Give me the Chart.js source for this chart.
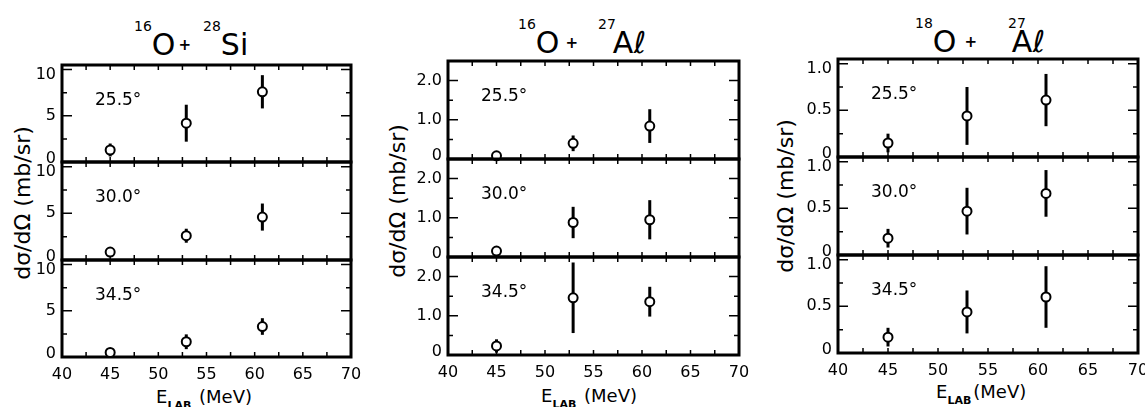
<!DOCTYPE html>
<html>
<head>
<meta charset="utf-8">
<title>Cross sections vs E_LAB</title>
<script src="https://cdn.jsdelivr.net/npm/chart.js@4.4.0/dist/chart.umd.min.js"></script>
<style>
  html, body { margin: 0; padding: 0; background: #fff; }
  #figure { position: relative; width: 1145px; height: 407px; overflow: hidden;
            font-family: "DejaVu Sans", sans-serif; color: #000; }
  #figure canvas { position: absolute; }
  .title { position: absolute; white-space: nowrap; font-size: 30px; line-height: 30px; }
  .iso { font-size: 14px; position: relative; top: -24px; }
  .plus { font-size: 15px; font-weight: bold; position: relative; top: -5px; }
  .ytitle { position: absolute; white-space: nowrap; font-size: 22px; line-height: 22px;
            transform: translate(-50%, -50%) rotate(-90deg); }
  .xtitle { position: absolute; white-space: nowrap; font-size: 18px; line-height: 18px; }
  .xtitle sub { font-size: 11px; font-weight: bold; vertical-align: -6px; margin-right: 2px; }
</style>
</head>
<body>
<div id="figure">
  <div class="title" style="left:134px;top:30px"><span class="iso">16</span>O<span class="plus" style="margin:0 12px 0 3px">+</span><span class="iso">28</span>Si</div>
  <div class="title" style="left:518px;top:28px"><span class="iso">16</span>O<span class="plus" style="margin:0 20px 0 6px">+</span><span class="iso">27</span><span style="margin-left:-3px">Aℓ</span></div>
  <div class="title" style="left:915px;top:27px"><span class="iso">18</span>O<span class="plus" style="margin:0 31px 0 8px">+</span><span class="iso">27</span><span style="margin-left:-14px">Aℓ</span></div>

  <div class="ytitle" style="left:23px;top:203px">dσ/dΩ (mb/sr)</div>
  <div class="ytitle" style="left:398px;top:201px">dσ/dΩ (mb/sr)</div>
  <div class="ytitle" style="left:786px;top:196px">dσ/dΩ (mb/sr)</div>

  <div class="xtitle" style="left:156px;top:388px">E<sub>LAB</sub> (MeV)</div>
  <div class="xtitle" style="left:541px;top:387px">E<sub>LAB</sub> (MeV)</div>
  <div class="xtitle" style="left:936px;top:383px">E<sub>LAB</sub>(MeV)</div>
</div>

<script>
  // Beam energies (MeV) and the three detection angles
  const energies = [45, 52.9, 60.8];
  const angleLabels = ['25.5°', '30.0°', '34.5°'];
  const energyTicks = [40, 45, 50, 55, 60, 65, 70];
  const energyTickLabels = ['40', '45', '50', '55', '60', '65', '70'];

  // 16O + 28Si, dσ/dΩ in mb/sr, one row per angle
  const si28Sigma = [[1.3, 4.2, 7.6], [0.85, 2.6, 4.6], [0.5, 1.65, 3.3]];
  const si28Error = [[0.7, 2.0, 1.8], [0, 0.75, 1.45], [0, 0.8, 0.9]];
  const si28Ticks = [0, 5, 10];
  const si28TickLabels = ['0', '5', '10'];

  // 16O + 27Al
  const al27Sigma = [[0.08, 0.4, 0.84], [0.15, 0.88, 0.95], [0.23, 1.46, 1.36]];
  const al27Error = [[0, 0.2, 0.43], [0, 0.4, 0.5], [0.17, 0.9, 0.38]];
  const al27Ticks = [0, 1, 2];
  const al27TickLabels = ['0', '1.0', '2.0'];

  // 18O + 27Al
  const o18Sigma = [[0.15, 0.44, 0.61], [0.18, 0.47, 0.66], [0.17, 0.44, 0.6]];
  const o18Error = [[0.1, 0.31, 0.28], [0.1, 0.25, 0.25], [0.1, 0.23, 0.33]];
  const o18Ticks = [0, 0.5, 1];
  const o18TickLabels = ['0', '0.5', '1.0'];

  const FONT = '"DejaVu Sans", sans-serif';
  Chart.defaults.font.family = FONT;
  Chart.defaults.color = '#000';

  const AXIS_W = 40;   // y axis box width
  const PAD = 22;      // room around each panel (larger than any tick label overflow)
  const XAXIS_H = 30;  // bottom axis height

  // plot boxes: left, top, right, bottom of the three stacked panels
  const columns = [
    { sigma: si28Sigma, error: si28Error, ticks: si28Ticks, tickLabels: si28TickLabels, yMax: 10.5, box: [62, 65, 351, 357] },
    { sigma: al27Sigma, error: al27Error, ticks: al27Ticks, tickLabels: al27TickLabels, yMax: 2.5, box: [448, 61, 739, 355] },
    { sigma: o18Sigma, error: o18Error, ticks: o18Ticks, tickLabels: o18TickLabels, yMax: 1.05, box: [838, 59, 1138, 353] }
  ];

  // midpoints between major ticks, used for the small inner ticks
  function withMinor(values) {
    const out = [];
    values.forEach((v, k) => {
      out.push({ v: v, major: true });
      if (k < values.length - 1) out.push({ v: (v + values[k + 1]) / 2, major: false });
    });
    return out;
  }

  // frame, inward ticks, error bars, y labels and the angle label
  const panelPlugin = {
    id: 'panel',
    beforeDatasetsDraw(chart, args, opts) {
      const ctx = chart.ctx;
      const a = chart.chartArea;
      const x = chart.scales.x, y = chart.scales.y;
      ctx.save();
      ctx.strokeStyle = '#000';
      ctx.lineCap = 'butt';

      // error bars
      ctx.lineWidth = 3;
      chart.data.datasets[0].data.forEach(p => {
        if (!p.err) return;
        const px = x.getPixelForValue(p.x);
        ctx.beginPath();
        ctx.moveTo(px, y.getPixelForValue(p.y - p.err));
        ctx.lineTo(px, y.getPixelForValue(p.y + p.err));
        ctx.stroke();
      });

      // inward tick marks on all four sides
      ctx.lineWidth = 1.5;
      ctx.beginPath();
      withMinor(energyTicks).forEach(t => {
        const px = x.getPixelForValue(t.v);
        ctx.moveTo(px, a.top); ctx.lineTo(px, a.top + 5);
        ctx.moveTo(px, a.bottom); ctx.lineTo(px, a.bottom - 5);
      });
      withMinor(y.ticks.map(t => t.value)).forEach(t => {
        const py = y.getPixelForValue(t.v);
        const len = t.major ? 10 : 5;
        ctx.moveTo(a.left, py); ctx.lineTo(a.left + len, py);
        ctx.moveTo(a.right, py); ctx.lineTo(a.right - len, py);
      });
      ctx.stroke();

      // panel frame
      ctx.lineWidth = 3;
      ctx.strokeRect(a.left, a.top, a.right - a.left, a.bottom - a.top);

      ctx.fillStyle = '#000';
      ctx.font = '16px ' + FONT;

      // y tick labels: the zero sits just above the divider, the top one just below it
      ctx.textAlign = 'right';
      ctx.textBaseline = 'middle';
      y.ticks.forEach((t, idx) => {
        let ly = y.getPixelForValue(t.value);
        if (t.value === 0) ly -= 3; else ly = Math.max(ly, a.top + 10);
        ctx.fillText(opts.labels[idx], a.left - 6, ly);
      });

      // angle label
      ctx.font = '17px ' + FONT;
      ctx.textBaseline = 'alphabetic';
      ctx.textAlign = 'left';
      ctx.fillText(opts.label, a.left + 33, a.top + 40);
      ctx.restore();
    }
  };

  const fig = document.getElementById('figure');

  columns.forEach(col => {
    const [l, t, r, b] = col.box;
    for (let i = 0; i < 3; i++) {
      const pTop = Math.round(t + (b - t) * i / 3);
      const pBot = Math.round(t + (b - t) * (i + 1) / 3);
      const last = i === 2;
      const w = (r - l) + AXIS_W + PAD;
      const h = (pBot - pTop) + PAD + (last ? XAXIS_H : PAD);

      const canvas = document.createElement('canvas');
      canvas.width = w;
      canvas.height = h;
      canvas.style.left = (l - AXIS_W) + 'px';
      canvas.style.top = (pTop - PAD) + 'px';
      canvas.style.width = w + 'px';
      canvas.style.height = h + 'px';
      fig.appendChild(canvas);

      const xScale = {
        type: 'linear', min: 40, max: 70, display: last,
        grid: { display: false, drawTicks: false },
        border: { display: false },
        ticks: { font: { size: 16 }, color: '#000', padding: 8, autoSkip: false, maxRotation: 0,
                 callback: (v, idx) => energyTickLabels[idx] },
        afterBuildTicks: s => { s.ticks = energyTicks.map(v => ({ value: v })); }
      };
      if (last) xScale.afterFit = s => { s.height = XAXIS_H; };

      new Chart(canvas, {
        type: 'scatter',
        data: {
          datasets: [{
            data: energies.map((e, k) => ({ x: e, y: col.sigma[i][k], err: col.error[i][k] })),
            pointRadius: 4.5,
            pointBorderWidth: 2,
            pointBorderColor: '#000',
            pointBackgroundColor: '#fff',
            clip: false
          }]
        },
        options: {
          responsive: false,
          animation: false,
          events: [],
          layout: { autoPadding: false, padding: { top: PAD, right: PAD, bottom: last ? 0 : PAD, left: 0 } },
          plugins: {
            legend: { display: false },
            tooltip: { enabled: false },
            panel: { label: angleLabels[i], labels: col.tickLabels }
          },
          scales: {
            x: xScale,
            y: {
              type: 'linear', min: 0, max: col.yMax,
              grid: { display: false, drawTicks: false },
              border: { display: false },
              ticks: { display: false },
              afterBuildTicks: s => { s.ticks = col.ticks.map(v => ({ value: v })); },
              afterFit: s => { s.width = AXIS_W; }
            }
          }
        },
        plugins: [panelPlugin]
      });
    }
  });
</script>
</body>
</html>
